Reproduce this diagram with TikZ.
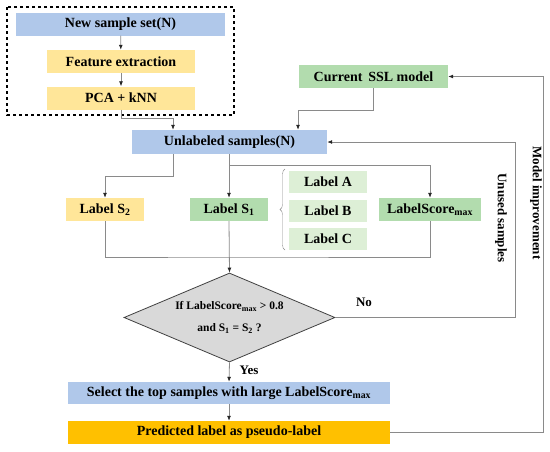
\documentclass[tikz,border=0pt]{standalone}
\usepackage{fontspec}
\setmainfont{Liberation Serif}
\usepackage{tikz}
\usetikzlibrary{shapes, arrows.meta, positioning, fit, backgrounds, decorations.pathreplacing}
\definecolor{boxblue}{HTML}{B0C8EA}
\definecolor{boxyellow}{HTML}{FFE699}
\definecolor{boxgreen}{HTML}{B2DCAE}
\definecolor{lightgreen}{HTML}{DDEFD6}
\definecolor{boxorange}{HTML}{FFC000}
\definecolor{linegray}{HTML}{8A8A8A}
\tikzset{
  box/.style={rectangle, inner sep=0pt, minimum height=23pt, font=\fontsize{14}{16}\selectfont\bfseries},
  arr/.style={draw=linegray, line width=0.8pt, -{Latex[length=5pt, width=4pt, black!85]}},
  conn/.style={draw=linegray, line width=0.8pt},
  side/.style={font=\fontsize{13}{15}\selectfont\bfseries, inner sep=0pt}
}

\begin{document}
\begin{tikzpicture}[x=1pt, y=-1pt]
            \useasboundingbox (0,0) rectangle (550,451);
            % Input block
            \node[box, fill=boxblue, minimum width=209pt] (newset) at (120.5,24) {New sample set(N)};
            \node[box, fill=boxyellow, minimum width=148pt] (feat) at (121,61.5) {Feature extraction};
            \node[box, fill=boxyellow, minimum width=148pt] (pca) at (121,98) {PCA + kNN};
            \draw[black, dashed, line width=1.2pt] (7,7) rectangle (234,115);
            % Model and unlabeled pool
            \node[box, fill=boxgreen, minimum width=149pt] (ssl) at (373.5,76.5) {Current\, SSL model};
            \node[box, fill=boxblue, minimum width=195pt, minimum height=24pt] (unl) at (229.5,142) {Unlabeled samples(N)};
            % Labels
            \node[box, fill=boxyellow, minimum width=78pt] (s2) at (105,209.5) {Label S\textsubscript{2}};
            \node[box, fill=boxgreen, minimum width=78pt] (s1) at (229,209.5) {Label S\textsubscript{1}};
            \node[box, fill=lightgreen, minimum width=78pt, minimum height=22pt] (la) at (328,182) {Label A};
            \node[box, fill=lightgreen, minimum width=78pt, minimum height=22pt] (lb) at (328,211) {Label B};
            \node[box, fill=lightgreen, minimum width=78pt, minimum height=22pt] (lc) at (328,239) {Label C};
            \node[box, fill=boxgreen, minimum width=102pt] (lsm) at (430,209.5) {LabelScore\textsubscript{max}};
            \draw[linegray, decorate, decoration={brace, amplitude=5pt}] (285,250) -- (285,169);
            % Decision
            \node[diamond, draw=black!75, fill=black!15, line width=0.8pt, inner sep=0pt, aspect=2.37,
                  minimum width=211pt, minimum height=89pt, align=center,
                  font=\fontsize{11.5}{22}\selectfont\bfseries] (dec) at (229.5,317.5)
                  {If LabelScore\textsubscript{max} > 0.8\\and S\textsubscript{1} = S\textsubscript{2} ?};
            % Output
            \node[box, fill=boxblue, minimum width=322pt, minimum height=22pt] (sel) at (229,393) {Select the top samples with large LabelScore\textsubscript{max}};
            \node[box, fill=boxorange, minimum width=322pt] (pred) at (229,432.5) {Predicted label as pseudo-label};
            % Junctions
            \coordinate (j1) at (173,118);
            \coordinate (j2) at (298,110);
            \coordinate (j3) at (105,176);
            \coordinate (j4) at (229,165);
            \coordinate (j5) at (229,257);
            \coordinate (j6) at (515,317.5);
            \coordinate (j7) at (543,432.5);
            % Connectors
            \draw[arr] (newset) -- (feat);
            \draw[arr] (feat) -- (pca);
            \draw[arr] (pca.south) |- (j1) -- (j1 |- unl.north);
            \draw[arr] (ssl.south) |- (j2) -- (j2 |- unl.north);
            \draw[arr] (j1 |- unl.south) |- (j3) -- (s2.north);
            \draw[arr] (s1.north |- unl.south) -- (s1.north);
            \draw[arr] (j4) -| (lsm.north);
            \draw[conn] (s2.south) |- (j5) -| (lsm.south);
            \draw[arr] (s1.south) -- (dec.north);
            \draw[arr] (dec.south) -- (sel.north);
            \draw[arr] (sel) -- (pred);
            \draw[arr] (dec.east) -- (j6) |- (unl.east);
            \draw[arr] (pred.east) -- (j7) |- (ssl.east);
            % Edge labels
            \node[side] (yes) at (249,370) {Yes};
            \node[side] (no) at (364,302) {No};
            \node[side, rotate=-90] (unused) at (501,218) {Unused samples};
            \node[side, rotate=-90] (improve) at (536,203) {Model improvement};
        \end{tikzpicture}
\end{document}
